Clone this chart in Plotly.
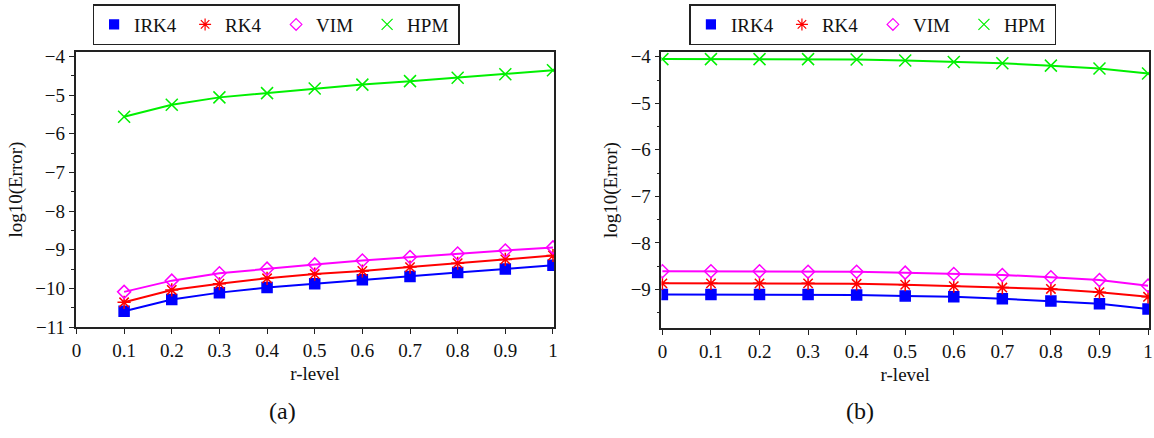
import plotly.graph_objects as go

# ---------- data ----------
r_a = [0.1, 0.2, 0.3, 0.4, 0.5, 0.6, 0.7, 0.8, 0.9, 1.0]
irk4_a = [-10.59, -10.29, -10.11, -9.98, -9.88, -9.78, -9.69, -9.59, -9.50, -9.40]
rk4_a = [-10.36, -10.04, -9.88, -9.74, -9.63, -9.55, -9.45, -9.35, -9.25, -9.15]
vim_a = [-10.09, -9.80, -9.61, -9.49, -9.38, -9.28, -9.19, -9.10, -9.02, -8.94]
hpm_a = [-5.56, -5.25, -5.06, -4.95, -4.83, -4.73, -4.64, -4.55, -4.46, -4.36]

r_b = [0.0, 0.1, 0.2, 0.3, 0.4, 0.5, 0.6, 0.7, 0.8, 0.9, 1.0]
irk4_b = [-9.11, -9.11, -9.11, -9.11, -9.12, -9.14, -9.16, -9.20, -9.25, -9.31, -9.42]
rk4_b = [-8.87, -8.87, -8.87, -8.87, -8.88, -8.90, -8.93, -8.96, -8.99, -9.06, -9.16]
vim_b = [-8.61, -8.61, -8.61, -8.62, -8.62, -8.64, -8.67, -8.69, -8.74, -8.80, -8.92]
hpm_b = [-4.05, -4.05, -4.05, -4.05, -4.06, -4.08, -4.11, -4.14, -4.19, -4.25, -4.36]

names = ["IRK4", "RK4", "VIM", "HPM"]
x_ticks = [0, 0.1, 0.2, 0.3, 0.4, 0.5, 0.6, 0.7, 0.8, 0.9, 1]
x_ticklabels = ["0", "0.1", "0.2", "0.3", "0.4", "0.5", "0.6", "0.7", "0.8", "0.9", "1"]
y_ticks_a = [-11, -10, -9, -8, -7, -6, -5, -4]
y_ticks_b = [-9, -8, -7, -6, -5, -4]

# ---------- styles ----------
colors = ["#0000ff", "#ff0000", "#ff00ff", "#00f000"]
symbols = ["square", "asterisk-open", "diamond-open", "x-thin-open"]
msizes = [10, 11, 10, 12]
FONT = "Liberation Serif"

W, H = 1154, 438
def px_x(p):
    return p / W
def px_y(p):
    return 1 - p / H

fig = go.Figure()

panels = [
    (r_a, [irk4_a, rk4_a, vim_a, hpm_a], "x", "y", "legend"),
    (r_b, [irk4_b, rk4_b, vim_b, hpm_b], "x2", "y2", "legend2"),
]
for xs, series, xa, ya, lg in panels:
    for i, ys in enumerate(series):
        mk = dict(symbol=symbols[i], size=msizes[i], color=colors[i],
                  line=dict(color=colors[i], width=1.5))
        fig.add_trace(go.Scatter(
            x=xs, y=ys, mode="lines+markers", name=names[i],
            line=dict(color=colors[i], width=2), marker=mk,
            xaxis=xa, yaxis=ya, showlegend=False))
        # legend-only entry (markers only, like the reference)
        fig.add_trace(go.Scatter(
            x=[None], y=[None], mode="markers", name=names[i],
            marker=dict(symbol=symbols[i], size=msizes[i] - 1, color=colors[i],
                        line=dict(color=colors[i], width=1.2)),
            xaxis=xa, yaxis=ya, legend=lg, showlegend=True))

axis_common = dict(
    showline=True, linecolor="#222", linewidth=1.5, mirror=True,
    ticks="outside", ticklen=5, tickcolor="#222", tickwidth=1,
    showgrid=False, zeroline=False,
    tickfont=dict(family=FONT, size=19, color="#111"),
    title_font=dict(family=FONT, size=19, color="#111"),
)

legend_common = dict(
    orientation="h", xanchor="center", y=px_y(-2), yanchor="top",
    bordercolor="#222", borderwidth=1.5, bgcolor="white",
    font=dict(family=FONT, size=19, color="#111"), itemwidth=30,
    entrywidth=46,
)

fig.update_layout(
    width=W, height=H,
    margin=dict(l=0, r=0, t=0, b=0),
    paper_bgcolor="white", plot_bgcolor="white",
    font=dict(family=FONT, size=19, color="#111"),
    xaxis=dict(domain=[px_x(72), px_x(554)], range=[-0.002, 1.0025],
               tickvals=x_ticks, ticktext=x_ticklabels,
               title=dict(text="r-level", standoff=7), anchor="y", **axis_common),
    yaxis=dict(domain=[px_y(334), px_y(48)], range=[-11, -3.89],
               tickvals=y_ticks_a, title=dict(text="log10(Error)", standoff=8),
               minor=dict(dtick=0.5, tick0=0, ticks="outside", ticklen=3, tickcolor="#222"),
               anchor="x", **axis_common),
    xaxis2=dict(domain=[px_x(662), px_x(1153)], range=[-0.002, 1.002],
                tickvals=x_ticks, ticktext=x_ticklabels,
                title=dict(text="r-level", standoff=7), anchor="y2", **axis_common),
    yaxis2=dict(domain=[px_y(335), px_y(48)], range=[-9.83, -3.9],
                tickvals=y_ticks_b, title=dict(text="log10(Error)", standoff=8),
                minor=dict(dtick=0.5, tick0=0, ticks="outside", ticklen=3, tickcolor="#222"),
                anchor="x2", **axis_common),
    legend=dict(x=px_x(274), **legend_common),
    legend2=dict(x=px_x(875), **legend_common),
    annotations=[
        dict(text="(a)", x=px_x(280), y=px_y(421), xref="paper", yref="paper",
             xanchor="center", yanchor="middle",
             showarrow=False, font=dict(family=FONT, size=24, color="#111")),
        dict(text="(b)", x=px_x(862), y=px_y(421), xref="paper", yref="paper",
             xanchor="center", yanchor="middle",
             showarrow=False, font=dict(family=FONT, size=24, color="#111")),
    ],
)

fig.write_html("out.html")
